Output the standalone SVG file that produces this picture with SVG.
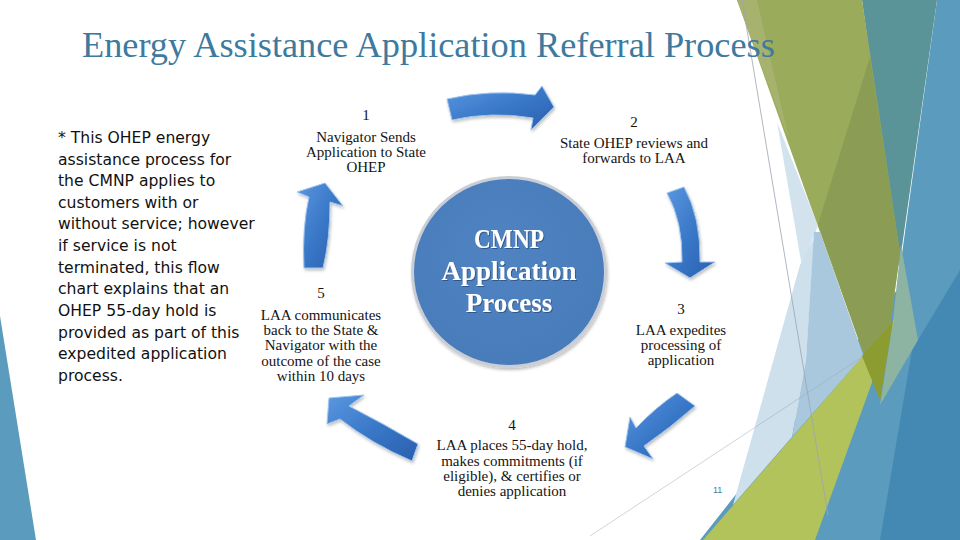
<svg xmlns="http://www.w3.org/2000/svg" width="960" height="540" viewBox="0 0 960 540">
  <defs>
    <style>
      .title { font-family: "Liberation Serif", "Times New Roman", serif; font-size: 36.3px; fill: #3d7a9e; }
      .note { font-family: "DejaVu Sans", Verdana, sans-serif; font-size: 15.6px; fill: #111111; }
      .lbl { font-family: "Liberation Serif", "Times New Roman", serif; font-size: 15px; fill: #141414; text-anchor: middle; }
      .ctr { font-family: "Liberation Serif", "Times New Roman", serif; font-weight: bold; font-size: 27px; fill: #ffffff; text-anchor: middle; }
      .arrow { fill: url(#arrowGrad); stroke: #9cc4ee; stroke-width: 1; stroke-linejoin: round; filter: url(#shadow); }
      .pg { font-family: "Liberation Sans", Arial, sans-serif; font-size: 9px; fill: #4a7a9a; }
      .thin { stroke: #9aa6b2; stroke-width: 0.8; fill: none; }
    </style>
    <linearGradient id="arrowGrad" x1="0" y1="0" x2="1" y2="1">
      <stop offset="0" stop-color="#5b97e0"/>
      <stop offset="0.5" stop-color="#3a78c8"/>
      <stop offset="1" stop-color="#2a5fae"/>
    </linearGradient>
    <radialGradient id="circGrad" cx="0.45" cy="0.4" r="0.65">
      <stop offset="0" stop-color="#4f83c2"/>
      <stop offset="1" stop-color="#477bb9"/>
    </radialGradient>
    <filter id="shadow" x="-20%" y="-20%" width="140%" height="140%">
      <feDropShadow dx="1" dy="2" stdDeviation="1.5" flood-color="#000000" flood-opacity="0.25"/>
    </filter>
    <filter id="tshadow" x="-10%" y="-10%" width="120%" height="130%">
      <feDropShadow dx="1" dy="1" stdDeviation="0.6" flood-color="#1d3d66" flood-opacity="0.6"/>
    </filter>
  </defs>

  <rect width="960" height="540" fill="#ffffff"/>

  <!-- background decoration -->
  <g id="decoration">
    <polygon points="0,316 36,540 0,540" fill="#5b9bbd"/>
    <polygon points="937,0 960,0 960,540 700,540 897,290" fill="#5b9bbd"/>
    <polygon points="960,270 960,540 880,540 912,350" fill="#4489b3"/>
    <polygon points="862,0 937,0 899,268" fill="#5a9499"/>
    <polygon points="737,0 862,0 900,253 880,400" fill="#9aab5c"/>
    <polygon points="737,0 757,0 789,140" fill="#a7b26e"/>
    <polygon points="870,57 900,253 880,400 818,224" fill="#8b9d55"/>
    <polygon points="777,122 818,226 813,238 802,267" fill="#d2e3ee"/>
    <polygon points="800,265 814,238 806,360 792,437 733,505" fill="#cde0ec"/>
    <polygon points="814,232 820,232 864,357 857,363 792,437 806,360" fill="#a9c8de"/>
    <polygon points="901,245 918,340 880,405 893,320" fill="#8db3a2"/>
    <polygon points="703,540 895,319 815,540" fill="#b2c35c"/>
    <polygon points="862,356 893,321 880,400" fill="#8d9c30"/>
    <line class="thin" x1="742" y1="0" x2="828" y2="515"/>
    <line class="thin" x1="590" y1="536" x2="862" y2="357" stroke-opacity="0.6"/>
  </g>

  <text class="title" x="82" y="57">Energy Assistance Application Referral Process</text>

  <g id="note">
    <text class="note" x="58" y="143">* This OHEP energy</text>
    <text class="note" x="58" y="165">assistance process for</text>
    <text class="note" x="58" y="186">the CMNP applies to</text>
    <text class="note" x="58" y="208">customers with or</text>
    <text class="note" x="58" y="229">without service; however</text>
    <text class="note" x="58" y="251">if service is not</text>
    <text class="note" x="58" y="273">terminated, this flow</text>
    <text class="note" x="58" y="294">chart explains that an</text>
    <text class="note" x="58" y="316">OHEP 55-day hold is</text>
    <text class="note" x="58" y="338">provided as part of this</text>
    <text class="note" x="58" y="359">expedited application</text>
    <text class="note" x="58" y="381">process.</text>
  </g>

  <g id="node-center">
    <ellipse cx="509" cy="272" rx="98" ry="96" fill="#c9ced6" filter="url(#shadow)"/>
    <ellipse cx="509" cy="272" rx="95" ry="93" fill="url(#circGrad)"/>
    <g filter="url(#tshadow)">
      <text class="ctr" x="509" y="248" textLength="70" lengthAdjust="spacingAndGlyphs">CMNP</text>
      <text class="ctr" x="509" y="280">Application</text>
      <text class="ctr" x="509" y="312">Process</text>
    </g>
  </g>

  <g id="node-1">
    <text class="lbl" x="366" y="120">1</text>
    <text class="lbl" x="366" y="142">Navigator Sends</text>
    <text class="lbl" x="366" y="157">Application to State</text>
    <text class="lbl" x="366" y="172">OHEP</text>
  </g>
  <g id="node-2">
    <text class="lbl" x="634" y="127">2</text>
    <text class="lbl" x="634" y="148">State OHEP reviews and</text>
    <text class="lbl" x="634" y="163">forwards to LAA</text>
  </g>
  <g id="node-3">
    <text class="lbl" x="681" y="314">3</text>
    <text class="lbl" x="681" y="335">LAA expedites</text>
    <text class="lbl" x="681" y="350">processing of</text>
    <text class="lbl" x="681" y="365">application</text>
  </g>
  <g id="node-4">
    <text class="lbl" x="512" y="430">4</text>
    <text class="lbl" x="512" y="450">LAA places 55-day hold,</text>
    <text class="lbl" x="512" y="466">makes commitments (if</text>
    <text class="lbl" x="512" y="481">eligible), &amp; certifies or</text>
    <text class="lbl" x="512" y="496">denies application</text>
  </g>
  <g id="node-5">
    <text class="lbl" x="321" y="298">5</text>
    <text class="lbl" x="321" y="320">LAA communicates</text>
    <text class="lbl" x="321" y="335">back to the State &amp;</text>
    <text class="lbl" x="321" y="350">Navigator with the</text>
    <text class="lbl" x="321" y="366">outcome of the case</text>
    <text class="lbl" x="321" y="381">within 10 days</text>
  </g>

  <g id="connectors">
    <path class="arrow" d="M447,99 Q490,89 535,95 L542,86 L554,107 L531,130 L533,118 Q492,111 452,120 Z"/>
    <path class="arrow" d="M667,193 L684,187 Q701,218 700,262 L715,262 L690,278 L665,263 L682,262 Q683,222 667,193 Z"/>
    <path class="arrow" d="M677,393 L695,406 Q670,428 644,446 L653,459 L625,447 L630,417 L636,428 Q656,407 677,393 Z"/>
    <path class="arrow" d="M329,398 L364,395 L349,406 Q384,424 418,444 L412,461 Q372,444 340,419 L327,424 Z"/>
    <path class="arrow" d="M325,183 L343,206 L330,202 Q330,240 323,268 L304,268 Q302,228 309,197 L297,192 Z"/>
  </g>

  <text class="pg" x="713" y="493">11</text>
</svg>
